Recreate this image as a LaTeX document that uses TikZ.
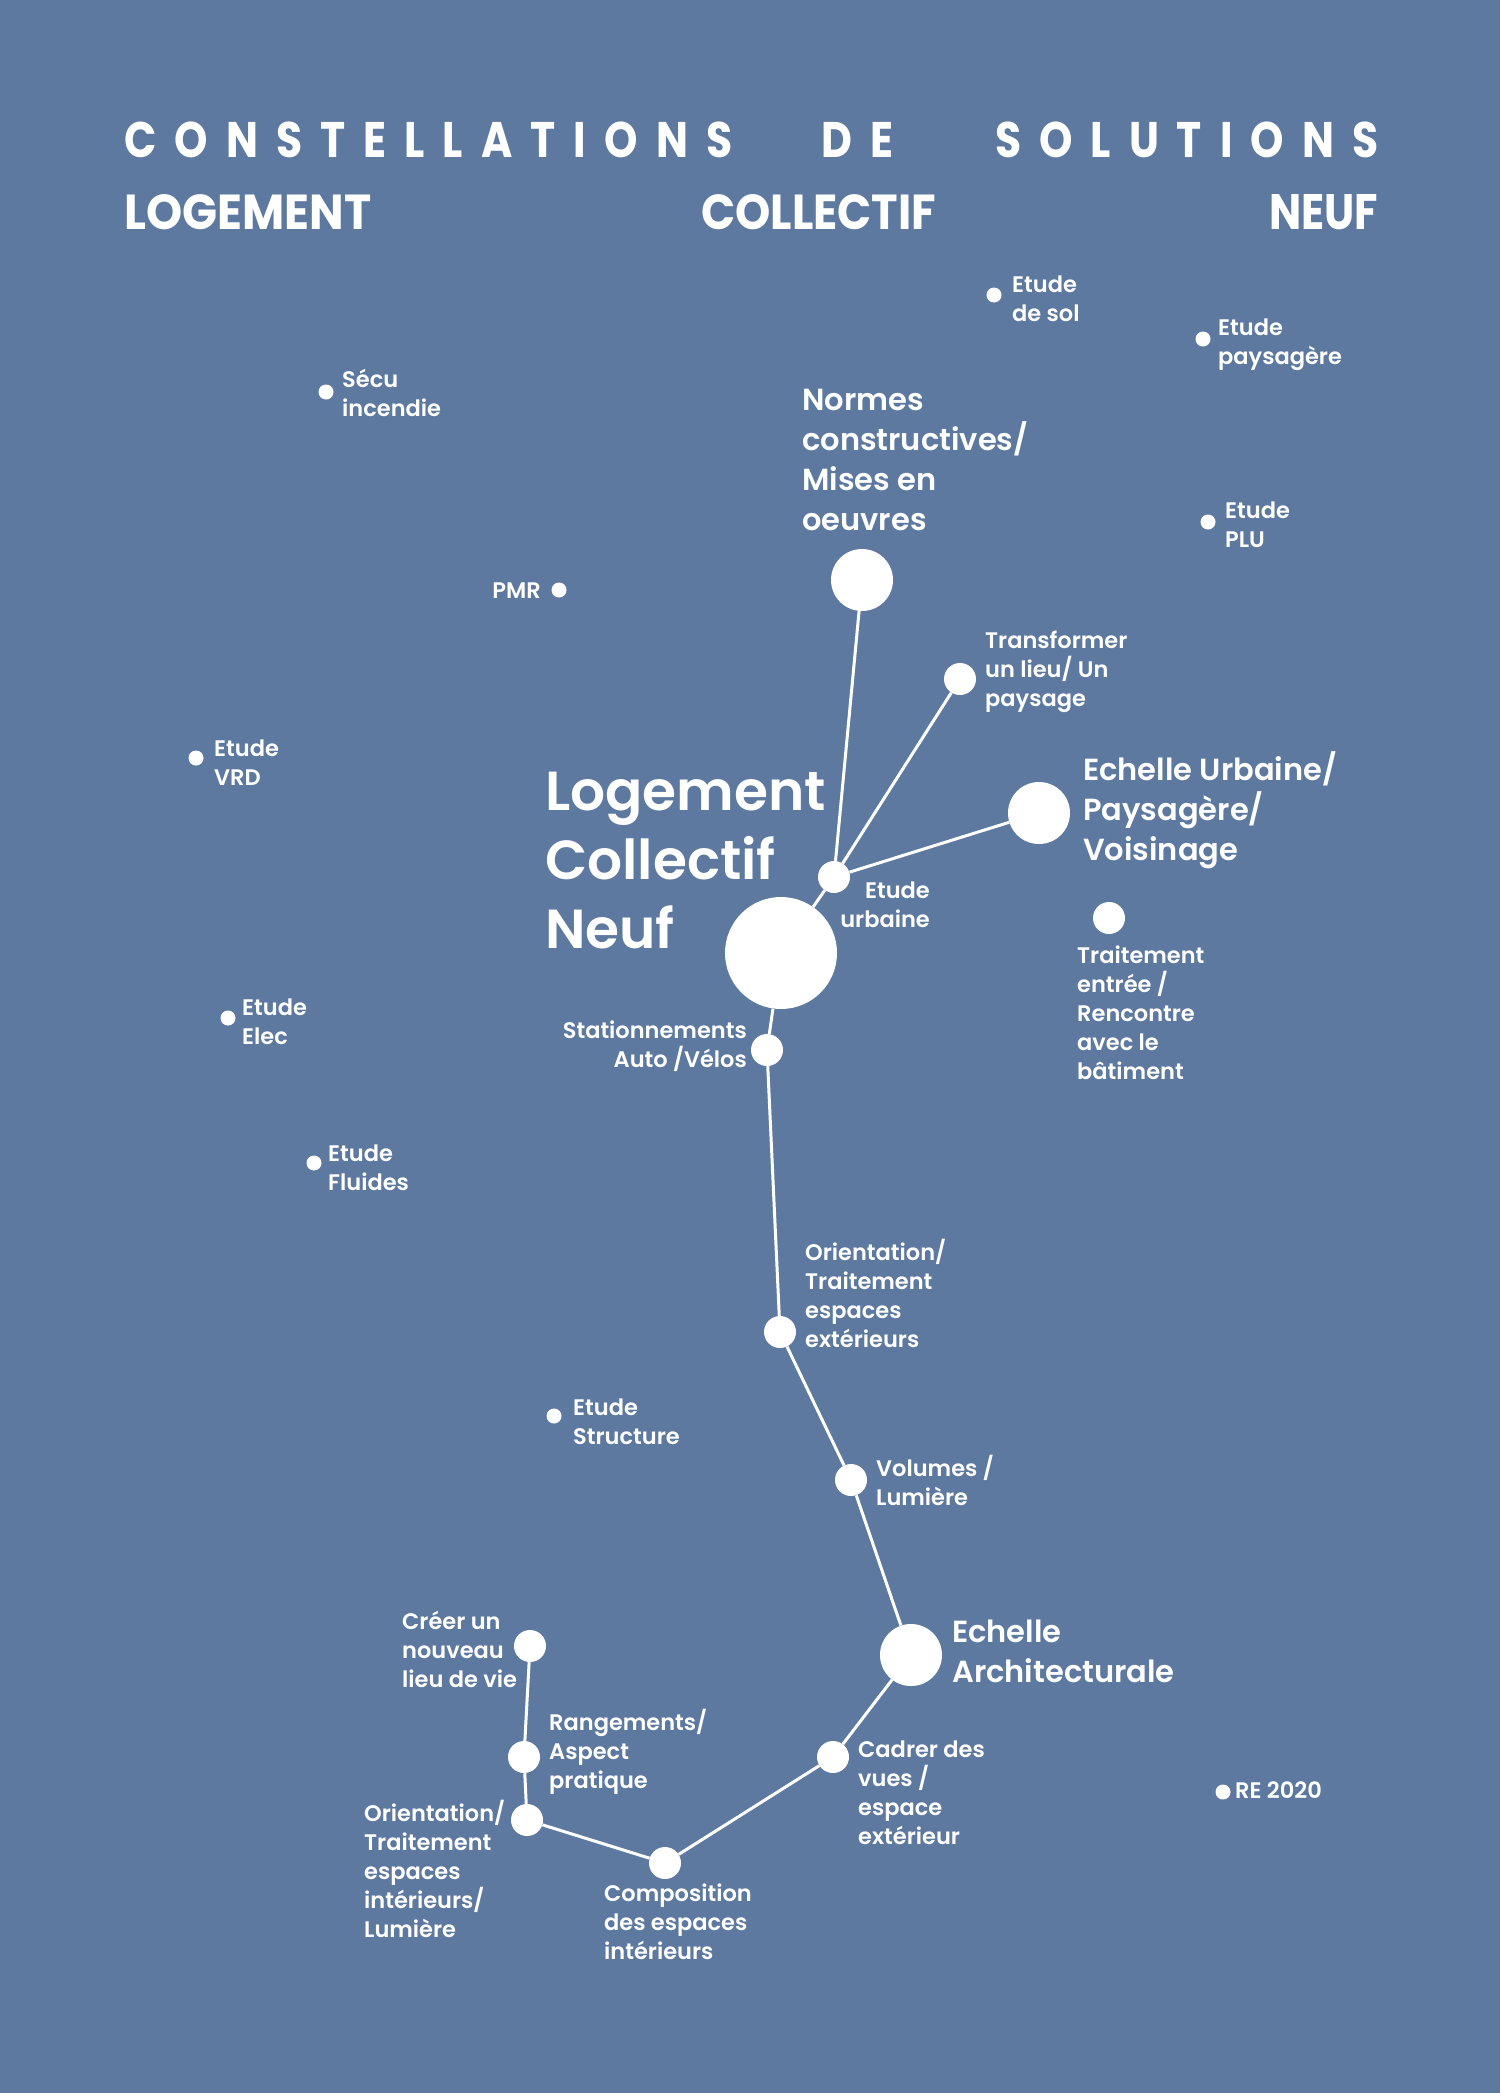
\documentclass[tikz,border=0pt]{standalone}
\usepackage{fontspec}
\newfontfamily\pop{Poppins SemiBold}
\newfontfamily\popb{Poppins Bold}
\definecolor{bg}{RGB}{94,121,160}
\tikzset{
  sdot/.style={circle,fill=white,inner sep=0pt,minimum size=15pt},
  mdot/.style={circle,fill=white,inner sep=0pt,minimum size=32pt},
  ldot/.style={circle,fill=white,inner sep=0pt,minimum size=62pt},
  hdot/.style={circle,fill=white,inner sep=0pt,minimum size=112pt},
  slab/.style={text=white,inner sep=0pt,align=left,anchor=base west,font=\pop\fontsize{22.5}{29}\selectfont},
  slabr/.style={slab,align=right,anchor=base east},
  mlab/.style={text=white,inner sep=0pt,align=left,anchor=base west,font=\pop\fontsize{30.5}{40}\selectfont},
  blab/.style={text=white,inner sep=0pt,align=left,anchor=base west,font=\pop\fontsize{55}{69}\selectfont},
  ttl/.style={text=white,inner sep=0pt,anchor=base west,font=\popb\fontsize{50}{50}\selectfont\addfontfeature{FakeStretch=0.85}},
  link/.style={white,line width=3pt}
}
\begin{document}
\begin{tikzpicture}[x=1pt,y=-1pt]
\path[use as bounding box,fill=bg] (0,0) rectangle (1500,2093);
% title
\node[ttl] (t1) at (124,157) {\makebox[608pt][s]{C\hfill O\hfill N\hfill S\hfill T\hfill E\hfill L\hfill L\hfill A\hfill T\hfill I\hfill O\hfill N\hfill S}};
\node[ttl] (t2) at (821,157) {\makebox[72pt][s]{D\hfill E}};
\node[ttl] (t3) at (995,157) {\makebox[383pt][s]{S\hfill O\hfill L\hfill U\hfill T\hfill I\hfill O\hfill N\hfill S}};
\node[ttl] (t4) at (124,229) {\resizebox{247pt}{35pt}{LOGEMENT}};
\node[ttl] (t5) at (701,229) {\resizebox{235pt}{35pt}{COLLECTIF}};
\node[ttl] (t6) at (1269,229) {\resizebox{109pt}{35pt}{NEUF}};
% small dots
\node[sdot] (sol) at (994,295) {};
\node[slab] (solL) at (1012,321) {Etude\\de sol};
\node[sdot] (pays) at (1203,339) {};
\node[slab] (paysL) at (1218,364) {Etude\\paysagère};
\node[sdot] (secu) at (326,392) {};
\node[slab] (secuL) at (342,416) {Sécu\\incendie};
\node[sdot] (plu) at (1208,522) {};
\node[slab] (pluL) at (1225,547) {Etude\\PLU};
\node[sdot] (pmr) at (559,590) {};
\node[slabr] (pmrL) at (541,598) {PMR};
\node[sdot] (vrd) at (196,758) {};
\node[slab] (vrdL) at (214,785) {Etude\\VRD};
\node[sdot] (elec) at (228,1018) {};
\node[slab] (elecL) at (242,1044) {Etude\\Elec};
\node[sdot] (flu) at (314,1163) {};
\node[slab] (fluL) at (328,1190) {Etude\\Fluides};
\node[sdot] (str) at (554,1416) {};
\node[slab] (strL) at (573,1444) {Etude\\Structure};
\node[sdot] (re) at (1223,1792) {};
\node[slab] (reL) at (1235,1798) {RE 2020};
% main graph
\node[hdot] (main) at (781,953) {};
\node[blab] (mainL) at (545,948) {Logement\\Collectif\\Neuf};
\node[mdot] (urb) at (834,877) {};
\node[slabr] (urbL) at (930,927) {Etude\\urbaine};
\node[ldot] (norm) at (862,580) {};
\node[mlab] (normL) at (802,530) {Normes\\constructives/\\Mises en\\oeuvres};
\node[mdot] (trans) at (960,679) {};
\node[slab] (transL) at (985,706) {Transformer\\un lieu/ Un\\paysage};
\node[ldot] (echu) at (1039,813) {};
\node[mlab] (echuL) at (1083,860) {Echelle Urbaine/\\Paysagère/\\Voisinage};
\node[mdot] (trait) at (1109,918) {};
\node[slab] (traitL) at (1077,1079) {Traitement\\entrée /\\Rencontre\\avec le\\bâtiment};
\node[mdot] (stat) at (767,1050) {};
\node[slabr] (statL) at (747,1067) {Stationnements\\Auto /Vélos};
\node[mdot] (orie) at (780,1332) {};
\node[slab] (orieL) at (805,1347) {Orientation/\\Traitement\\espaces\\extérieurs};
\node[mdot] (vol) at (851,1480) {};
\node[slab] (volL) at (876,1505) {Volumes /\\Lumière};
\node[ldot] (echa) at (911,1655) {};
\node[mlab] (echaL) at (952,1682) {Echelle\\Architecturale};
\node[mdot] (cad) at (833,1757) {};
\node[slab] (cadL) at (858,1844) {Cadrer des\\vues /\\espace\\extérieur};
\node[mdot] (comp) at (665,1863) {};
\node[slab] (compL) at (604,1959) {Composition\\des espaces\\intérieurs};
\node[mdot] (oint) at (527,1820) {};
\node[slab] (ointL) at (364,1937) {Orientation/\\Traitement\\espaces\\intérieurs/\\Lumière};
\node[mdot] (rang) at (524,1757) {};
\node[slab] (rangL) at (549,1788) {Rangements/\\Aspect\\pratique};
\node[mdot] (cre) at (530,1646) {};
\node[slab] (creL) at (402,1687) {Créer un\\nouveau\\lieu de vie};
% links
\draw[link] (main) -- (urb);
\draw[link] (urb) -- (norm);
\draw[link] (urb) -- (trans);
\draw[link] (urb) -- (echu);
\draw[link] (main) -- (stat);
\draw[link] (stat) -- (orie);
\draw[link] (orie) -- (vol);
\draw[link] (vol) -- (echa);
\draw[link] (echa) -- (cad);
\draw[link] (cad) -- (comp);
\draw[link] (comp) -- (oint);
\draw[link] (oint) -- (rang);
\draw[link] (rang) -- (cre);
\end{tikzpicture}
\end{document}
